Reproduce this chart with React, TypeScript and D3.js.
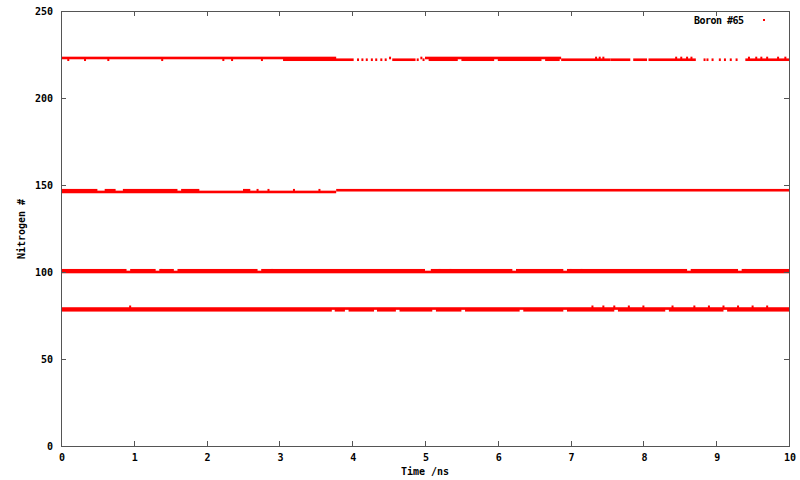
import * as d3 from "d3";
import { useEffect, useRef } from "react";

const width = 800;
const height = 480;
const margin = { top: 11, right: 11, bottom: 34, left: 61 };

const xTicks = [0, 1, 2, 3, 4, 5, 6, 7, 8, 9, 10];
const yTicks = [0, 50, 100, 150, 200, 250];
const seriesName = "Boron #65";

// continuous runs: [start ns, end ns, nitrogen #]
const runs223: [number, number, number][] = [
  [0, 3.78, 223], [3.05, 4.02, 222], [4.55, 4.87, 222], [5.0, 6.87, 223],
  [5.05, 5.45, 222], [5.5, 5.95, 222], [6.0, 6.6, 222], [6.65, 6.85, 222], [6.87, 7.55, 222],
  [7.55, 7.82, 222], [7.86, 8.05, 222], [8.07, 8.72, 222], [9.4, 10, 222],
];
const dots223: [number, number][] = [
  [0.1, 222], [0.33, 222], [0.65, 222], [1.39, 222], [2.23, 222], [2.35, 222], [2.76, 222],
  [4.08, 222], [4.14, 222], [4.2, 222], [4.27, 222], [4.33, 222], [4.4, 222], [4.46, 222],
  [4.52, 223], [4.9, 222], [4.95, 223], [4.98, 222], [7.35, 223], [7.4, 223], [7.45, 223],
  [8.45, 223], [8.52, 223], [8.6, 223], [8.66, 223], [8.84, 222], [8.88, 222],
  [8.95, 222], [9.05, 222], [9.12, 222], [9.2, 222], [9.28, 222],
  [9.45, 223], [9.55, 223], [9.62, 223], [9.7, 223], [9.85, 223], [9.95, 223],
];

const runs147: [number, number, number][] = [
  [0, 3.78, 146], [0, 0.5, 147], [0.6, 0.75, 147], [0.85, 1.6, 147], [1.65, 1.9, 147],
  [2.5, 2.6, 147], [3.78, 10, 147],
];
const dots147: [number, number][] = [
  [2.7, 147], [2.85, 147], [3.2, 147], [3.55, 147],
];

const runs101: [number, number, number][] = [
  [0, 10, 100], [0, 0.9, 101], [0.95, 1.3, 101], [1.35, 1.55, 101], [1.6, 2.7, 101],
  [2.75, 5.0, 101], [5.08, 6.2, 101], [6.25, 6.9, 101], [6.95, 8.6, 101],
  [8.65, 9.3, 101], [9.35, 10, 101],
];
const dots101: [number, number][] = [
  [1.38, 101], [2.9, 101], [5.2, 101], [5.35, 101], [7.0, 101], [7.15, 101], [9.4, 101],
];

const runs79: [number, number, number][] = [
  [0, 10, 79], [0, 3.72, 78], [3.76, 3.9, 78], [3.95, 4.3, 78], [4.34, 4.6, 78],
  [4.65, 5.1, 78], [5.15, 5.5, 78], [5.55, 6.3, 78], [6.35, 6.9, 78], [6.95, 7.6, 78],
  [7.65, 8.3, 78], [8.35, 9.1, 78], [9.15, 10, 78],
];
const dots79: [number, number][] = [
  [0.95, 80], [7.3, 80], [7.45, 80], [7.6, 80], [7.8, 80], [8.0, 80], [8.4, 80],
  [8.7, 80], [8.9, 80], [9.1, 80], [9.3, 80], [9.5, 80], [9.7, 80],
];

const allRuns = [...runs223, ...runs147, ...runs101, ...runs79];
const allDots = [...dots223, ...dots147, ...dots101, ...dots79];

export default function App() {
  const svgRef = useRef<SVGSVGElement | null>(null);

  useEffect(() => {
    if (!svgRef.current) return;
    const svg = d3.select(svgRef.current);
    svg.selectAll("*").remove();

    const plotRight = width - margin.right;
    const plotBottom = height - margin.bottom;
    const font = "'DejaVu Sans Mono', monospace";
    const axisColor = "#555";

    const xScale = d3.scaleLinear().domain([0, 10]).range([margin.left, plotRight]);
    const yScale = d3.scaleLinear().domain([0, 250]).range([plotBottom, margin.top]);

    const marks = svg.append("g").attr("fill", "#ff0000");
    marks
      .selectAll("rect.run")
      .data(allRuns)
      .join("rect")
      .attr("class", "run")
      .attr("x", (d) => xScale(d[0]))
      .attr("width", (d) => Math.max(2, xScale(d[1]) - xScale(d[0])))
      .attr("y", (d) => yScale(d[2]) - 1.3)
      .attr("height", 2.6);
    marks
      .selectAll("rect.dot")
      .data(allDots)
      .join("rect")
      .attr("class", "dot")
      .attr("x", (d) => xScale(d[0]) - 1)
      .attr("width", 2)
      .attr("y", (d) => yScale(d[1]) - 1.3)
      .attr("height", 2.6);

    // border
    svg
      .append("rect")
      .attr("x", margin.left + 0.5)
      .attr("y", margin.top + 0.5)
      .attr("width", plotRight - margin.left)
      .attr("height", plotBottom - margin.top)
      .attr("fill", "none")
      .attr("stroke", axisColor)
      .attr("stroke-width", 1);

    const ticks = svg.append("g").attr("stroke", axisColor).attr("stroke-width", 1);
    xTicks.forEach((t) => {
      const x = Math.round(xScale(t)) + 0.5;
      ticks.append("line").attr("x1", x).attr("x2", x).attr("y1", plotBottom).attr("y2", plotBottom - 5);
      ticks.append("line").attr("x1", x).attr("x2", x).attr("y1", margin.top).attr("y2", margin.top + 5);
    });
    yTicks.forEach((t) => {
      const y = Math.round(yScale(t)) + 0.5;
      ticks.append("line").attr("x1", margin.left).attr("x2", margin.left + 5).attr("y1", y).attr("y2", y);
      ticks.append("line").attr("x1", plotRight).attr("x2", plotRight - 5).attr("y1", y).attr("y2", y);
    });

    const labels = svg
      .append("g")
      .attr("fill", "#000")
      .style("font-family", font)
      .style("font-size", "10px")
      .style("font-weight", "700");

    labels
      .selectAll("text.xt")
      .data(xTicks)
      .join("text")
      .attr("class", "xt")
      .attr("x", (d) => xScale(d) + 1)
      .attr("y", plotBottom + 15)
      .attr("text-anchor", "middle")
      .text((d) => d);

    labels
      .selectAll("text.yt")
      .data(yTicks)
      .join("text")
      .attr("class", "yt")
      .attr("x", margin.left - 8)
      .attr("y", (d) => yScale(d) + 4)
      .attr("text-anchor", "end")
      .text((d) => d);

    labels
      .append("text")
      .attr("x", 425)
      .attr("y", 475)
      .attr("text-anchor", "middle")
      .text("Time /ns");

    labels
      .append("text")
      .attr("transform", "translate(25, 229) rotate(-90)")
      .attr("text-anchor", "middle")
      .text("Nitrogen #");

    labels
      .append("text")
      .attr("x", 744)
      .attr("y", 24)
      .attr("text-anchor", "end")
      .attr("textLength", 50)
      .text(seriesName);

    svg
      .append("rect")
      .attr("x", 763)
      .attr("y", 19)
      .attr("width", 2)
      .attr("height", 2)
      .attr("fill", "#ff0000");
  }, []);

  return (
    <svg
      ref={svgRef}
      width={width}
      height={height}
      style={{ position: "absolute", left: 0, top: 0, background: "#fff" }}
    />
  );
}
